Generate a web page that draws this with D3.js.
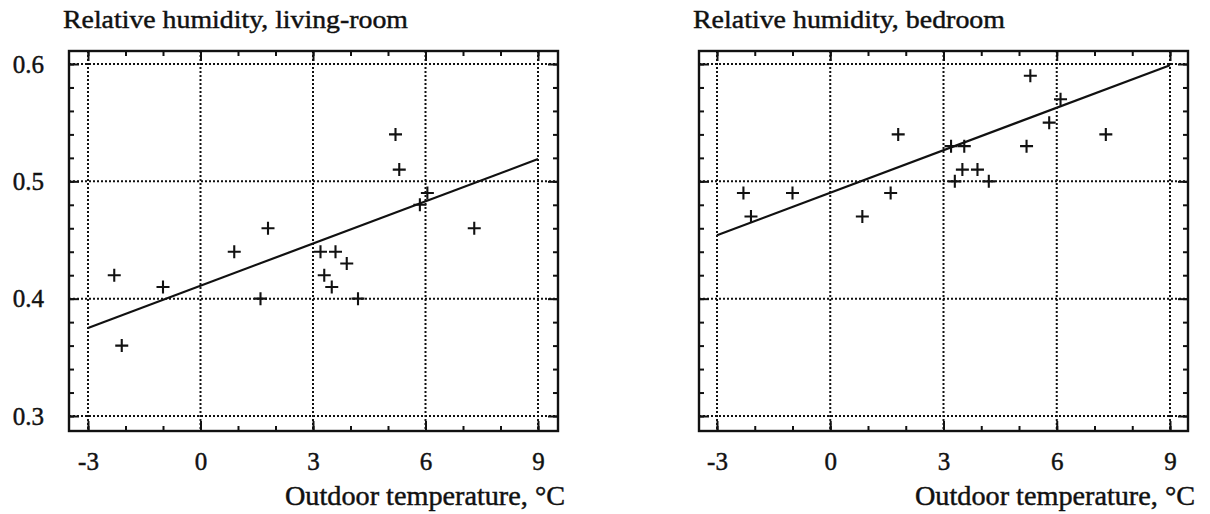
<!DOCTYPE html>
<html>
<head>
<meta charset="utf-8">
<script src="https://cdn.jsdelivr.net/npm/d3@7"></script>
<style>
  body { margin: 0; background: #fff; }
  svg { display: block; }
  text { font-family: "Liberation Serif", "Times New Roman", serif; fill: #111; stroke: #111; stroke-width: 0.45px; }
</style>
</head>
<body>
<svg id="chart" width="1210" height="514"></svg>
<script>
// Values
const xTicks = [-3, 0, 3, 6, 9];
const xTickLabels = ['-3', '0', '3', '6', '9'];
const yTicks = [0.3, 0.4, 0.5, 0.6];
const yTickLabels = ['0.3', '0.4', '0.5', '0.6'];

const livingTemp = [-2.3, -2.1, -1.0, 0.9, 1.8, 1.6, 3.2, 3.6, 3.9, 3.3, 3.5, 4.2, 5.2, 5.3, 6.05, 5.85, 7.3];
const livingRH   = [0.42, 0.36, 0.41, 0.44, 0.46, 0.40, 0.44, 0.44, 0.43, 0.42, 0.41, 0.40, 0.54, 0.51, 0.49, 0.48, 0.46];

const bedroomTemp = [-2.3, -2.1, -1.0, 0.85, 1.6, 1.8, 3.2, 3.55, 3.3, 3.5, 3.9, 4.2, 5.3, 5.2, 5.8, 6.1, 7.3];
const bedroomRH   = [0.49, 0.47, 0.49, 0.47, 0.49, 0.54, 0.53, 0.53, 0.50, 0.51, 0.51, 0.50, 0.59, 0.53, 0.55, 0.57, 0.54];

// regression lines, end points
const fitTemp = [-3, 9];
const livingFit = [0.375, 0.519];
const bedroomFit = [0.454, 0.599];

const panels = [
    { title: 'Relative humidity, living-room', temp: livingTemp, rh: livingRH, fit: livingFit,
      frame: { left: 69, right: 558, top: 51, bottom: 431 }, xRange: [88, 538], yLabels: true, titleLen: 345 },
    { title: 'Relative humidity, bedroom', temp: bedroomTemp, rh: bedroomRH, fit: bedroomFit,
      frame: { left: 699, right: 1188, top: 51, bottom: 431 }, xRange: [717, 1170], yLabels: false, titleLen: 312 }
];

const svg = d3.select('#chart');

panels.forEach(p => drawPanel(p));

function drawPanel(p) {
    const f = p.frame;
    const g = svg.append('g');

    const x = d3.scaleLinear().domain([-3, 9]).range(p.xRange);
    const y = d3.scaleLinear().domain([0.3, 0.6]).range([416, 64]);

    const minorX = d3.range(-3, 9.5, 1);
    const minorY = d3.range(0.3, 0.605, 0.02).concat([0.58]);

    // dotted grid at the major values
    g.selectAll('.vgrid')
        .data(xTicks)
        .join('line')
        .attr('x1', d => x(d)).attr('x2', d => x(d))
        .attr('y1', f.top).attr('y2', f.bottom)
        .style('stroke', '#111')
        .style('stroke-width', 2)
        .style('stroke-dasharray', '2,2');

    g.selectAll('.hgrid')
        .data(yTicks)
        .join('line')
        .attr('x1', f.left).attr('x2', f.right)
        .attr('y1', d => y(d)).attr('y2', d => y(d))
        .style('stroke', '#111')
        .style('stroke-width', 2)
        .style('stroke-dasharray', '2,2');

    // inward ticks on all four sides
    const tickAxes = [
        { axis: d3.axisBottom(x).tickValues(minorX).tickSize(-5), pos: `translate(0,${f.bottom})` },
        { axis: d3.axisBottom(x).tickValues(xTicks).tickSize(-10), pos: `translate(0,${f.bottom})` },
        { axis: d3.axisTop(x).tickValues(minorX).tickSize(-5), pos: `translate(0,${f.top})` },
        { axis: d3.axisTop(x).tickValues(xTicks).tickSize(-10), pos: `translate(0,${f.top})` },
        { axis: d3.axisLeft(y).tickValues(minorY).tickSize(-5), pos: `translate(${f.left},0)` },
        { axis: d3.axisLeft(y).tickValues(yTicks).tickSize(-10), pos: `translate(${f.left},0)` },
        { axis: d3.axisRight(y).tickValues(minorY).tickSize(-5), pos: `translate(${f.right},0)` },
        { axis: d3.axisRight(y).tickValues(yTicks).tickSize(-10), pos: `translate(${f.right},0)` }
    ];
    tickAxes.forEach(t => {
        const a = g.append('g')
            .attr('transform', t.pos)
            .call(t.axis.tickFormat(''));
        a.select('.domain').remove();
        a.selectAll('line').style('stroke', '#111').style('stroke-width', 2);
    });

    // frame
    g.append('rect')
        .attr('x', f.left).attr('y', f.top)
        .attr('width', f.right - f.left).attr('height', f.bottom - f.top)
        .style('fill', 'none')
        .style('stroke', '#111')
        .style('stroke-width', 2.4);

    // tick labels
    const xLab = g.append('g')
        .attr('transform', `translate(0,${f.bottom})`)
        .call(d3.axisBottom(x).tickValues(xTicks).tickSize(0).tickPadding(21)
            .tickFormat((d, i) => xTickLabels[i]));
    xLab.select('.domain').remove();
    xLab.selectAll('text')
        .attr('fill', '#111')
        .style('font-size', '25px')
        .style('font-family', '"Liberation Serif", serif');

    if (p.yLabels) {
        const yLab = g.append('g')
            .attr('transform', `translate(${f.left},0)`)
            .call(d3.axisLeft(y).tickValues(yTicks).tickSize(0).tickPadding(25)
                .tickFormat((d, i) => yTickLabels[i]));
        yLab.select('.domain').remove();
        yLab.selectAll('text')
            .attr('fill', '#111')
            .style('font-size', '25px')
            .style('font-family', '"Liberation Serif", serif');
    }

    // regression line
    const line = d3.line()
        .x(d => x(d[0]))
        .y(d => y(d[1]));
    g.append('path')
        .datum(d3.zip(fitTemp, p.fit))
        .attr('d', line)
        .style('fill', 'none')
        .style('stroke', '#111')
        .style('stroke-width', 2.2);

    // plus markers
    const s = 6.5;
    g.selectAll('.pt')
        .data(d3.zip(p.temp, p.rh))
        .join('path')
        .attr('d', d => {
            const cx = x(d[0]), cy = y(d[1]);
            return `M${cx - s},${cy}H${cx + s}M${cx},${cy - s}V${cy + s}`;
        })
        .style('stroke', '#111')
        .style('stroke-width', 2.1)
        .style('fill', 'none');

    // titles
    g.append('text')
        .attr('x', f.left - 6)
        .attr('y', 28)
        .attr('textLength', p.titleLen)
        .attr('lengthAdjust', 'spacingAndGlyphs')
        .style('font-size', '26px')
        .text(p.title);

    g.append('text')
        .attr('x', f.right + 7)
        .attr('y', 505)
        .attr('text-anchor', 'end')
        .attr('textLength', 280)
        .attr('lengthAdjust', 'spacingAndGlyphs')
        .style('font-size', '27px')
        .text('Outdoor temperature, °C');
}
</script>
</body>
</html>
